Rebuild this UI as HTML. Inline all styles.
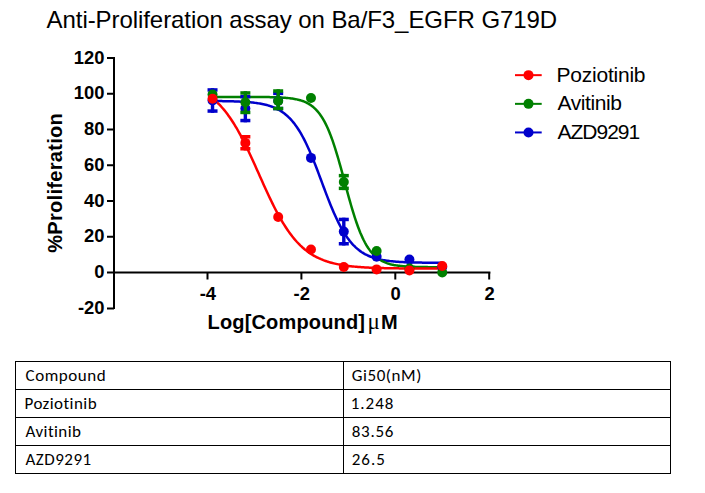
<!DOCTYPE html>
<html><head><meta charset="utf-8"><title>Anti-Proliferation assay</title>
<style>
html,body{margin:0;padding:0;background:#fff;}
body{width:705px;height:493px;overflow:hidden;position:relative;}
svg{position:absolute;left:0;top:0;display:block;}
text{font-family:"Liberation Sans",Arial,sans-serif;fill:#000;}
.tk{font-size:18.4px;font-weight:700;}
.at{font-size:20px;font-weight:700;}
.mu{font-family:"Liberation Serif","Times New Roman",serif;font-weight:400;font-size:23px;}
.lg{font-size:21px;}
.ti{font-size:24px;}
.tb{font-family:Carlito,Calibri,"Liberation Sans",sans-serif;font-size:17px;font-variant-ligatures:none;font-feature-settings:"liga" 0,"clig" 0;}
</style></head>
<body>
<svg width="705" height="493" viewBox="0 0 705 493">
<path d="M114,57 V309 M107,58 H114 M107,93.8 H114 M107,129.6 H114 M107,165.3 H114 M107,201.1 H114 M107,236.8 H114 M107,308.4 H114" stroke="#000" stroke-width="2" fill="none"/>
<path d="M107,272.6 H490.4" stroke="#000" stroke-width="2" fill="none"/>
<path d="M207.5,272.6 V279.6 M301.4,272.6 V279.6 M395.3,272.6 V279.6 M489.2,272.6 V279.6 " stroke="#000" stroke-width="2" fill="none"/>
<text x="104.5" y="63.6" text-anchor="end" class="tk">120</text>
<text x="104.5" y="99.4" text-anchor="end" class="tk">100</text>
<text x="104.5" y="135.2" text-anchor="end" class="tk">80</text>
<text x="104.5" y="170.9" text-anchor="end" class="tk">60</text>
<text x="104.5" y="206.7" text-anchor="end" class="tk">40</text>
<text x="104.5" y="242.4" text-anchor="end" class="tk">20</text>
<text x="104.5" y="278.2" text-anchor="end" class="tk">0</text>
<text x="104.5" y="314.0" text-anchor="end" class="tk">-20</text>
<text x="207.9" y="299.8" text-anchor="middle" class="tk">-4</text>
<text x="301.8" y="299.8" text-anchor="middle" class="tk">-2</text>
<text x="395.7" y="299.8" text-anchor="middle" class="tk">0</text>
<text x="489.6" y="299.8" text-anchor="middle" class="tk">2</text>
<path d="M212.53,101.02 L213.69,101.03 L214.84,101.04 L216.00,101.05 L217.15,101.06 L218.31,101.07 L219.46,101.08 L220.61,101.10 L221.77,101.12 L222.92,101.13 L224.08,101.15 L225.23,101.17 L226.39,101.19 L227.54,101.22 L228.69,101.24 L229.85,101.27 L231.00,101.30 L232.16,101.33 L233.31,101.36 L234.47,101.40 L235.62,101.44 L236.77,101.48 L237.93,101.53 L239.08,101.58 L240.24,101.63 L241.39,101.69 L242.55,101.75 L243.70,101.82 L244.86,101.89 L246.01,101.97 L247.16,102.06 L248.32,102.15 L249.47,102.25 L250.63,102.35 L251.78,102.47 L252.94,102.59 L254.09,102.72 L255.24,102.87 L256.40,103.02 L257.55,103.19 L258.71,103.36 L259.86,103.56 L261.02,103.76 L262.17,103.99 L263.33,104.23 L264.48,104.48 L265.63,104.76 L266.79,105.06 L267.94,105.38 L269.10,105.73 L270.25,106.10 L271.41,106.50 L272.56,106.93 L273.71,107.38 L274.87,107.88 L276.02,108.41 L277.18,108.97 L278.33,109.58 L279.49,110.23 L280.64,110.92 L281.79,111.66 L282.95,112.46 L284.10,113.30 L285.26,114.21 L286.41,115.17 L287.57,116.20 L288.72,117.29 L289.88,118.45 L291.03,119.68 L292.18,120.99 L293.34,122.37 L294.49,123.83 L295.65,125.38 L296.80,127.01 L297.96,128.72 L299.11,130.53 L300.26,132.42 L301.42,134.40 L302.57,136.48 L303.73,138.64 L304.88,140.90 L306.04,143.24 L307.19,145.67 L308.34,148.19 L309.50,150.79 L310.65,153.46 L311.81,156.21 L312.96,159.02 L314.12,161.90 L315.27,164.83 L316.43,167.81 L317.58,170.82 L318.73,173.87 L319.89,176.94 L321.04,180.03 L322.20,183.12 L323.35,186.21 L324.51,189.28 L325.66,192.34 L326.81,195.36 L327.97,198.35 L329.12,201.29 L330.28,204.17 L331.43,207.00 L332.59,209.76 L333.74,212.45 L334.90,215.06 L336.05,217.59 L337.20,220.04 L338.36,222.40 L339.51,224.67 L340.67,226.85 L341.82,228.95 L342.98,230.95 L344.13,232.86 L345.28,234.68 L346.44,236.41 L347.59,238.06 L348.75,239.62 L349.90,241.10 L351.06,242.49 L352.21,243.81 L353.36,245.06 L354.52,246.23 L355.67,247.34 L356.83,248.37 L357.98,249.35 L359.14,250.26 L360.29,251.12 L361.45,251.93 L362.60,252.68 L363.75,253.38 L364.91,254.04 L366.06,254.65 L367.22,255.23 L368.37,255.76 L369.53,256.26 L370.68,256.73 L371.83,257.16 L372.99,257.56 L374.14,257.94 L375.30,258.29 L376.45,258.62 L377.61,258.92 L378.76,259.20 L379.91,259.46 L381.07,259.71 L382.22,259.93 L383.38,260.14 L384.53,260.34 L385.69,260.52 L386.84,260.69 L388.00,260.84 L389.15,260.99 L390.30,261.12 L391.46,261.25 L392.61,261.36 L393.77,261.47 L394.92,261.57 L396.08,261.66 L397.23,261.75 L398.38,261.83 L399.54,261.90 L400.69,261.97 L401.85,262.03 L403.00,262.09 L404.16,262.15 L405.31,262.20 L406.47,262.24 L407.62,262.29 L408.77,262.33 L409.93,262.37 L411.08,262.40 L412.24,262.43 L413.39,262.46 L414.55,262.49 L415.70,262.52 L416.85,262.54 L418.01,262.56 L419.16,262.58 L420.32,262.60 L421.47,262.62 L422.63,262.63 L423.78,262.65 L424.93,262.66 L426.09,262.68 L427.24,262.69 L428.40,262.70 L429.55,262.71 L430.71,262.72 L431.86,262.73 L433.02,262.73 L434.17,262.74 L435.32,262.75 L436.48,262.76 L437.63,262.76 L438.79,262.77 L439.94,262.77 L441.10,262.78 L442.25,262.78" stroke="#0000cc" stroke-width="2.5" fill="none"/>
<path d="M212.53,96.88 L213.69,96.88 L214.84,96.88 L216.00,96.88 L217.15,96.88 L218.31,96.88 L219.46,96.88 L220.61,96.88 L221.77,96.88 L222.92,96.88 L224.08,96.88 L225.23,96.88 L226.39,96.88 L227.54,96.88 L228.69,96.88 L229.85,96.88 L231.00,96.88 L232.16,96.88 L233.31,96.89 L234.47,96.89 L235.62,96.89 L236.77,96.89 L237.93,96.89 L239.08,96.89 L240.24,96.89 L241.39,96.90 L242.55,96.90 L243.70,96.90 L244.86,96.90 L246.01,96.91 L247.16,96.91 L248.32,96.91 L249.47,96.92 L250.63,96.92 L251.78,96.92 L252.94,96.93 L254.09,96.94 L255.24,96.94 L256.40,96.95 L257.55,96.96 L258.71,96.97 L259.86,96.98 L261.02,96.99 L262.17,97.00 L263.33,97.01 L264.48,97.03 L265.63,97.04 L266.79,97.06 L267.94,97.08 L269.10,97.10 L270.25,97.13 L271.41,97.15 L272.56,97.18 L273.71,97.21 L274.87,97.25 L276.02,97.29 L277.18,97.33 L278.33,97.38 L279.49,97.44 L280.64,97.49 L281.79,97.56 L282.95,97.63 L284.10,97.71 L285.26,97.80 L286.41,97.90 L287.57,98.01 L288.72,98.13 L289.88,98.26 L291.03,98.41 L292.18,98.57 L293.34,98.75 L294.49,98.94 L295.65,99.16 L296.80,99.40 L297.96,99.66 L299.11,99.96 L300.26,100.28 L301.42,100.63 L302.57,101.02 L303.73,101.45 L304.88,101.92 L306.04,102.44 L307.19,103.02 L308.34,103.64 L309.50,104.33 L310.65,105.09 L311.81,105.92 L312.96,106.82 L314.12,107.81 L315.27,108.90 L316.43,110.08 L317.58,111.36 L318.73,112.76 L319.89,114.28 L321.04,115.93 L322.20,117.71 L323.35,119.63 L324.51,121.70 L325.66,123.92 L326.81,126.30 L327.97,128.85 L329.12,131.56 L330.28,134.43 L331.43,137.48 L332.59,140.69 L333.74,144.06 L334.90,147.59 L336.05,151.27 L337.20,155.08 L338.36,159.02 L339.51,163.06 L340.67,167.20 L341.82,171.41 L342.98,175.68 L344.13,179.97 L345.28,184.28 L346.44,188.58 L347.59,192.84 L348.75,197.05 L349.90,201.18 L351.06,205.23 L352.21,209.16 L353.36,212.97 L354.52,216.64 L355.67,220.16 L356.83,223.53 L357.98,226.73 L359.14,229.77 L360.29,232.65 L361.45,235.35 L362.60,237.89 L363.75,240.27 L364.91,242.49 L366.06,244.55 L367.22,246.47 L368.37,248.24 L369.53,249.88 L370.68,251.40 L371.83,252.79 L372.99,254.08 L374.14,255.25 L375.30,256.33 L376.45,257.32 L377.61,258.22 L378.76,259.05 L379.91,259.80 L381.07,260.49 L382.22,261.12 L383.38,261.68 L384.53,262.20 L385.69,262.67 L386.84,263.10 L388.00,263.49 L389.15,263.84 L390.30,264.17 L391.46,264.46 L392.61,264.72 L393.77,264.96 L394.92,265.17 L396.08,265.37 L397.23,265.55 L398.38,265.71 L399.54,265.86 L400.69,265.99 L401.85,266.11 L403.00,266.21 L404.16,266.31 L405.31,266.40 L406.47,266.48 L407.62,266.55 L408.77,266.62 L409.93,266.68 L411.08,266.73 L412.24,266.78 L413.39,266.82 L414.55,266.86 L415.70,266.90 L416.85,266.93 L418.01,266.96 L419.16,266.99 L420.32,267.01 L421.47,267.03 L422.63,267.05 L423.78,267.07 L424.93,267.09 L426.09,267.10 L427.24,267.11 L428.40,267.13 L429.55,267.14 L430.71,267.15 L431.86,267.15 L433.02,267.16 L434.17,267.17 L435.32,267.18 L436.48,267.18 L437.63,267.19 L438.79,267.19 L439.94,267.20 L441.10,267.20 L442.25,267.20" stroke="#008000" stroke-width="2.5" fill="none"/>
<path d="M212.53,98.41 L213.69,99.36 L214.84,100.34 L216.00,101.38 L217.15,102.45 L218.31,103.57 L219.46,104.74 L220.61,105.96 L221.77,107.23 L222.92,108.54 L224.08,109.91 L225.23,111.33 L226.39,112.80 L227.54,114.33 L228.69,115.91 L229.85,117.54 L231.00,119.23 L232.16,120.97 L233.31,122.77 L234.47,124.62 L235.62,126.53 L236.77,128.49 L237.93,130.50 L239.08,132.56 L240.24,134.68 L241.39,136.84 L242.55,139.05 L243.70,141.30 L244.86,143.60 L246.01,145.94 L247.16,148.32 L248.32,150.74 L249.47,153.19 L250.63,155.67 L251.78,158.17 L252.94,160.70 L254.09,163.25 L255.24,165.81 L256.40,168.39 L257.55,170.97 L258.71,173.56 L259.86,176.15 L261.02,178.74 L262.17,181.32 L263.33,183.89 L264.48,186.45 L265.63,188.99 L266.79,191.50 L267.94,193.99 L269.10,196.45 L270.25,198.88 L271.41,201.28 L272.56,203.64 L273.71,205.96 L274.87,208.23 L276.02,210.46 L277.18,212.65 L278.33,214.78 L279.49,216.87 L280.64,218.91 L281.79,220.89 L282.95,222.82 L284.10,224.70 L285.26,226.52 L286.41,228.29 L287.57,230.00 L288.72,231.66 L289.88,233.26 L291.03,234.81 L292.18,236.31 L293.34,237.75 L294.49,239.14 L295.65,240.48 L296.80,241.77 L297.96,243.01 L299.11,244.20 L300.26,245.34 L301.42,246.43 L302.57,247.49 L303.73,248.49 L304.88,249.46 L306.04,250.38 L307.19,251.27 L308.34,252.11 L309.50,252.92 L310.65,253.69 L311.81,254.43 L312.96,255.13 L314.12,255.80 L315.27,256.44 L316.43,257.05 L317.58,257.63 L318.73,258.19 L319.89,258.71 L321.04,259.22 L322.20,259.69 L323.35,260.15 L324.51,260.58 L325.66,260.99 L326.81,261.38 L327.97,261.76 L329.12,262.11 L330.28,262.45 L331.43,262.76 L332.59,263.07 L333.74,263.35 L334.90,263.63 L336.05,263.89 L337.20,264.13 L338.36,264.37 L339.51,264.59 L340.67,264.80 L341.82,265.00 L342.98,265.19 L344.13,265.37 L345.28,265.54 L346.44,265.70 L347.59,265.85 L348.75,266.00 L349.90,266.14 L351.06,266.27 L352.21,266.39 L353.36,266.51 L354.52,266.62 L355.67,266.72 L356.83,266.82 L357.98,266.92 L359.14,267.01 L360.29,267.09 L361.45,267.17 L362.60,267.25 L363.75,267.32 L364.91,267.39 L366.06,267.46 L367.22,267.52 L368.37,267.58 L369.53,267.63 L370.68,267.68 L371.83,267.73 L372.99,267.78 L374.14,267.82 L375.30,267.87 L376.45,267.90 L377.61,267.94 L378.76,267.98 L379.91,268.01 L381.07,268.04 L382.22,268.07 L383.38,268.10 L384.53,268.13 L385.69,268.16 L386.84,268.18 L388.00,268.20 L389.15,268.22 L390.30,268.25 L391.46,268.27 L392.61,268.28 L393.77,268.30 L394.92,268.32 L396.08,268.33 L397.23,268.35 L398.38,268.36 L399.54,268.38 L400.69,268.39 L401.85,268.40 L403.00,268.41 L404.16,268.42 L405.31,268.43 L406.47,268.44 L407.62,268.45 L408.77,268.46 L409.93,268.47 L411.08,268.48 L412.24,268.48 L413.39,268.49 L414.55,268.50 L415.70,268.50 L416.85,268.51 L418.01,268.51 L419.16,268.52 L420.32,268.52 L421.47,268.53 L422.63,268.53 L423.78,268.54 L424.93,268.54 L426.09,268.55 L427.24,268.55 L428.40,268.55 L429.55,268.56 L430.71,268.56 L431.86,268.56 L433.02,268.56 L434.17,268.57 L435.32,268.57 L436.48,268.57 L437.63,268.57 L438.79,268.58 L439.94,268.58 L441.10,268.58 L442.25,268.58" stroke="#ff0000" stroke-width="2.5" fill="none"/>
<rect x="210.83" y="88.20" width="3.4" height="24.60" fill="#0000cc"/><rect x="207.53" y="88.20" width="10.0" height="3.5" fill="#0000cc"/><rect x="207.53" y="109.30" width="10.0" height="3.5" fill="#0000cc"/><circle cx="212.53" cy="100.50" r="5.0" fill="#0000cc"/><rect x="243.65" y="94.90" width="3.4" height="27.40" fill="#0000cc"/><rect x="240.35" y="94.90" width="10.0" height="3.5" fill="#0000cc"/><rect x="240.35" y="118.80" width="10.0" height="3.5" fill="#0000cc"/><circle cx="245.35" cy="108.60" r="5.0" fill="#0000cc"/><rect x="276.47" y="91.60" width="3.4" height="18.70" fill="#0000cc"/><rect x="273.17" y="91.60" width="10.0" height="3.5" fill="#0000cc"/><rect x="273.17" y="106.80" width="10.0" height="3.5" fill="#0000cc"/><circle cx="278.17" cy="100.80" r="5.0" fill="#0000cc"/><circle cx="310.98" cy="157.90" r="5.0" fill="#0000cc"/><rect x="342.10" y="217.70" width="3.4" height="27.80" fill="#0000cc"/><rect x="338.80" y="217.70" width="10.0" height="3.5" fill="#0000cc"/><rect x="338.80" y="242.00" width="10.0" height="3.5" fill="#0000cc"/><circle cx="343.80" cy="231.60" r="5.0" fill="#0000cc"/><circle cx="376.62" cy="256.70" r="5.0" fill="#0000cc"/><circle cx="409.43" cy="259.50" r="5.0" fill="#0000cc"/><circle cx="442.25" cy="267.00" r="5.0" fill="#0000cc"/>
<circle cx="212.53" cy="94.50" r="5.0" fill="#008000"/><rect x="243.65" y="91.20" width="3.4" height="23.00" fill="#008000"/><rect x="240.35" y="91.20" width="10.0" height="3.5" fill="#008000"/><rect x="240.35" y="110.70" width="10.0" height="3.5" fill="#008000"/><circle cx="245.35" cy="102.20" r="5.0" fill="#008000"/><rect x="276.47" y="89.25" width="3.4" height="21.00" fill="#008000"/><rect x="273.17" y="89.25" width="10.0" height="3.5" fill="#008000"/><rect x="273.17" y="106.75" width="10.0" height="3.5" fill="#008000"/><circle cx="278.17" cy="101.00" r="5.0" fill="#008000"/><circle cx="310.98" cy="98.00" r="5.0" fill="#008000"/><rect x="342.10" y="173.90" width="3.4" height="16.20" fill="#008000"/><rect x="338.80" y="173.90" width="10.0" height="3.5" fill="#008000"/><rect x="338.80" y="186.60" width="10.0" height="3.5" fill="#008000"/><circle cx="343.80" cy="182.00" r="5.0" fill="#008000"/><circle cx="376.62" cy="251.00" r="5.0" fill="#008000"/><circle cx="409.43" cy="268.50" r="5.0" fill="#008000"/><circle cx="442.25" cy="272.50" r="5.0" fill="#008000"/>
<circle cx="212.53" cy="98.80" r="5.0" fill="#ff0000"/><rect x="243.65" y="135.00" width="3.4" height="15.50" fill="#ff0000"/><rect x="240.35" y="135.00" width="10.0" height="3.5" fill="#ff0000"/><rect x="240.35" y="147.00" width="10.0" height="3.5" fill="#ff0000"/><circle cx="245.35" cy="142.90" r="5.0" fill="#ff0000"/><circle cx="278.17" cy="217.00" r="5.0" fill="#ff0000"/><circle cx="310.98" cy="249.50" r="5.0" fill="#ff0000"/><circle cx="343.80" cy="267.00" r="5.0" fill="#ff0000"/><circle cx="376.62" cy="269.40" r="5.0" fill="#ff0000"/><circle cx="409.43" cy="270.40" r="5.0" fill="#ff0000"/><circle cx="442.25" cy="266.00" r="5.0" fill="#ff0000"/>
<path d="M515,75.15 H541.7" stroke="#ff0000" stroke-width="2" fill="none"/><circle cx="528.5" cy="75.15" r="5.0" fill="#ff0000"/>
<text x="556.50" y="81.55" class="lg" textLength="89.06" lengthAdjust="spacing">Poziotinib</text>
<path d="M515,103.85 H541.7" stroke="#008000" stroke-width="2" fill="none"/><circle cx="528.5" cy="103.85" r="5.0" fill="#008000"/>
<text x="557.50" y="110.25" class="lg" textLength="64.33" lengthAdjust="spacing">Avitinib</text>
<path d="M515,132.45 H541.7" stroke="#0000cc" stroke-width="2" fill="none"/><circle cx="528.5" cy="132.45" r="5.0" fill="#0000cc"/>
<text x="557.50" y="138.85" class="lg" textLength="82.72" lengthAdjust="spacing">AZD9291</text>
<text x="207.50" y="329.30" class="at" textLength="157.50" lengthAdjust="spacing">Log[Compound]</text><text x="367.60" y="329.30" class="at mu">μ</text><text x="381.00" y="329.30" class="at">M</text>
<text transform="translate(61.6,183) rotate(-90)" text-anchor="middle" class="at" textLength="139.6" lengthAdjust="spacing">%Proliferation</text>
<text x="46.60" y="27.70" class="ti" textLength="510.56" lengthAdjust="spacing">Anti-Proliferation assay on Ba/F3_EGFR G719D</text>
<path d="M15.5,361 V474 M343.5,361 V474 M670.5,361 V474 M15,361.5 H671 M15,389.5 H671 M15,417.5 H671 M15,445.5 H671 M15,473.5 H671" stroke="#000" stroke-width="1" fill="none"/>
<text x="25.50" y="380.90" class="tb" textLength="80.31" lengthAdjust="spacing">Compound</text><text x="351.70" y="380.90" class="tb" textLength="69.64" lengthAdjust="spacing">Gi50(nM)</text>
<text x="24.50" y="408.90" class="tb" textLength="72.12" lengthAdjust="spacing">Poziotinib</text><text x="350.70" y="408.90" class="tb" textLength="42.77" lengthAdjust="spacing">1.248</text>
<text x="25.50" y="436.90" class="tb" textLength="55.47" lengthAdjust="spacing">Avitinib</text><text x="351.70" y="436.90" class="tb" textLength="41.77" lengthAdjust="spacing">83.56</text>
<text x="25.50" y="464.90" class="tb" textLength="65.73" lengthAdjust="spacing">AZD9291</text><text x="351.70" y="464.90" class="tb" textLength="33.14" lengthAdjust="spacing">26.5</text>
</svg>
</body></html>
